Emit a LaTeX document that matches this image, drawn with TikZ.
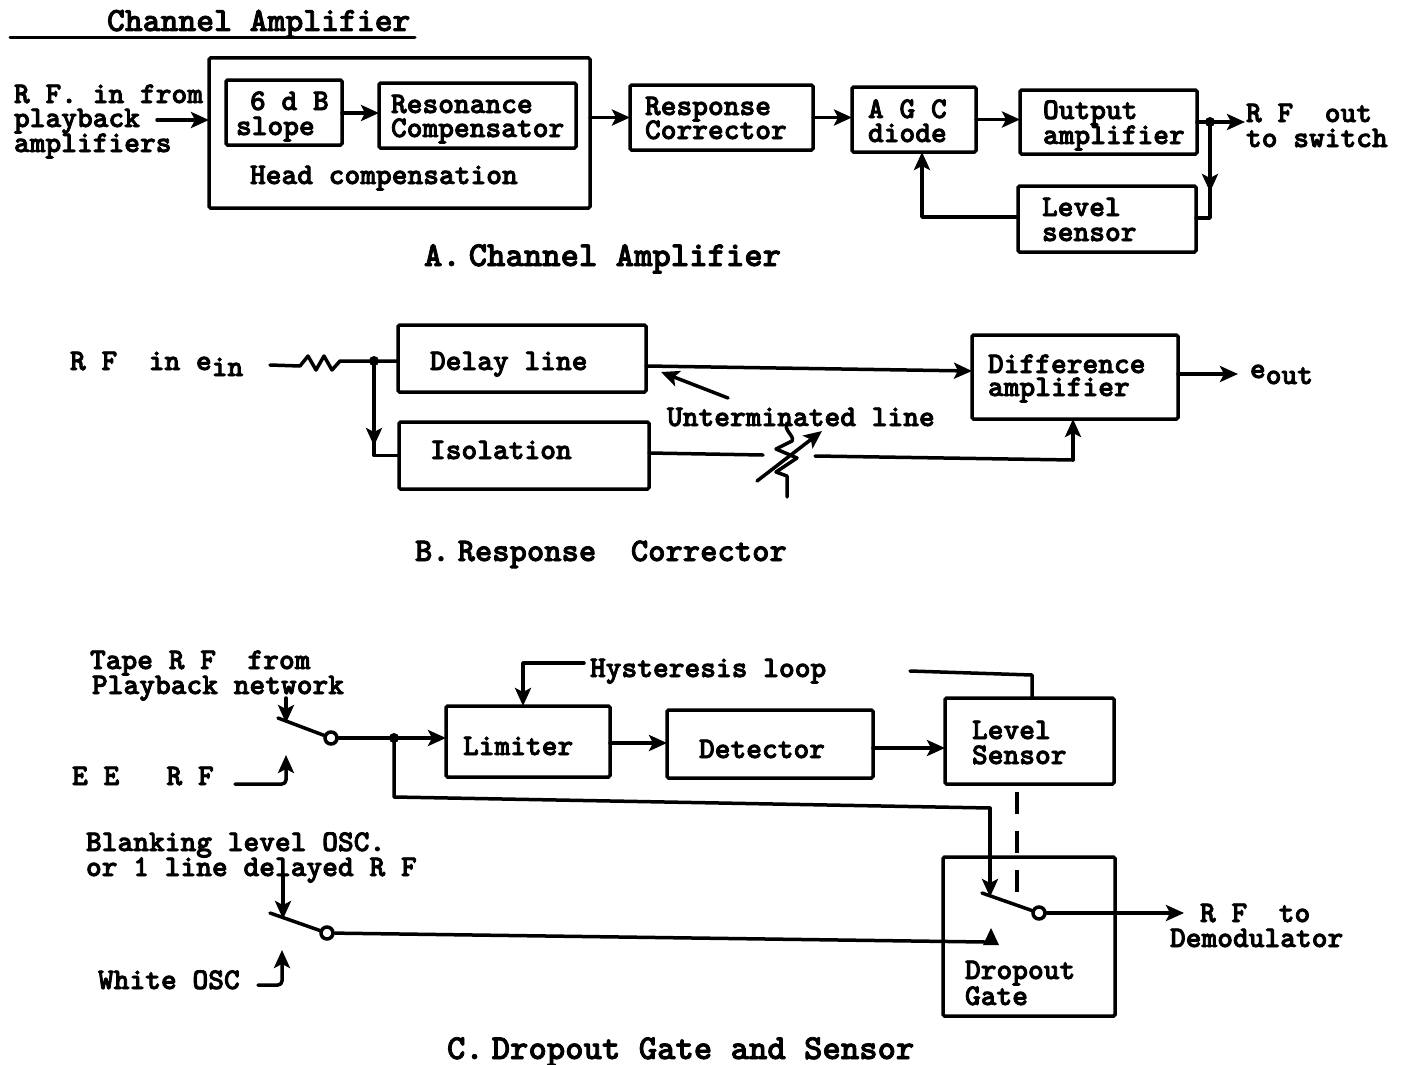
\documentclass[tikz,border=0pt]{standalone}
\usetikzlibrary{arrows.meta,calc}
\newcommand{\heavy}{\special{pdf:code 2 Tr 0.8 w}}
\newcommand{\fa}{\ttfamily\bfseries\fontsize{30}{30}\selectfont\heavy}
\newcommand{\fc}[1]{\ttfamily\bfseries\fontsize{#1}{#1}\selectfont\heavy}
\tikzset{
  wire/.style={line width=3.5pt,line join=round,line cap=round},
  arr/.style={wire,-{Stealth[length=18pt,width=16pt,inset=4pt]}},
  blk/.style={draw,line width=3.5pt,rounded corners=1.5pt,inner sep=0pt,outer sep=0pt},
  lab/.style={inner sep=0pt,outer sep=0pt,anchor=base west,font=\fa,execute at end node={\special{pdf:code 0 Tr}}},
  captxt/.style={lab},
  jdot/.style={circle,fill,inner sep=0pt,minimum size=10pt},
  sw/.style={circle,draw,fill=white,line width=3.5pt,inner sep=0pt,minimum size=12pt},
}
% name x1 y1 x2 y2
\newcommand{\bx}[5]{\node[blk,minimum width={(#4-#2)*1pt},minimum height={(#5-#3)*1pt}] (#1) at ({(#2+#4)/2},{(#3+#5)/2}) {};}
% name x ycentre text
\newcommand{\tx}[4]{\node[lab] (#1) at (#2,#3+8) {#4};}
\begin{document}
\begin{tikzpicture}[x=1pt,y=-1pt]
\useasboundingbox (0,0) rectangle (1405,1065);
% ---------- A
\node[lab,font=\fc{34}] (title) at (107,31) {Channel Amplifier};
\coordinate (ulL) at (10,38); \coordinate (ulR) at (415,38);
\draw[wire,line width=3pt] (ulL) -- (ulR);
\bx{head}{209}{58}{590}{208}
\bx{slope}{226}{80}{342}{145}
\bx{reso}{379}{83}{576}{148}
\bx{resp}{630}{85}{813}{150}
\bx{agc}{852}{87}{976}{152}
\bx{outa}{1020}{90}{1197}{154}
\bx{lev}{1018}{186}{1196}{252}
\tx{t1}{14}{95}{R F. in from}
\tx{t2}{14}{119}{playback}
\tx{t3}{14}{144}{amplifiers}
\tx{t4}{250}{102}{6 d B}
\tx{t5}{236}{127}{slope}
\tx{t6}{391}{105}{Resonance}
\tx{t7}{391}{129}{Compensator}
\tx{t8}{250}{176}{Head compensation}
\tx{t9}{645}{107}{Response}
\tx{t10}{645}{131}{Corrector}
\tx{t11}{868}{110}{A G C}
\tx{t12}{868}{134}{diode}
\tx{t13}{1043}{111}{Output}
\tx{t14}{1043}{136}{amplifier}
\tx{t15}{1042}{208}{Level}
\tx{t16}{1042}{233}{sensor}
\tx{t17}{1246}{114}{R F~~out}
\tx{t18}{1246}{139}{to switch}
\node[captxt,font=\fc{35}] (capA) at (424,266) {A.\hspace{8pt}Channel Amplifier};
\coordinate (inA) at (157,120);
\draw[arr] (inA) -- (inA -| head.west);
\draw[arr] (slope.east |- 0,113) -- (reso.west |- 0,113);
\draw[arr] (head.east |- resp.west) -- (resp.west);
\draw[arr] (resp.east) -- (agc.west |- resp.east);
\draw[arr] (agc.east) -- (outa.west |- agc.east);
\coordinate (jA) at (1210,122);
\coordinate (jAe) at (1245,122);
\draw[arr] (outa.east) -- (jAe);
\node[jdot] (dA) at (jA) {};
\draw[arr] (dA.center) -- (1210,192);
\draw[wire] (1210,185) |- (lev.east |- 0,218);
\draw[arr] (lev.west |- 0,217) -| (agc.south -| 922,0);
% ---------- B
\bx{delay}{398}{325}{646}{392}
\bx{iso}{399}{422}{649}{489}
\bx{diff}{972}{335}{1178}{419}
\node[lab] (t20) at (70,370) {R~F~~in~e\raisebox{-6pt}{in}};
\tx{t21}{430}{362}{Delay line}
\tx{t22}{430}{451}{Isolation}
\tx{t23}{988}{365}{Difference}
\tx{t24}{988}{388}{amplifier}
\node[lab] (t25) at (1250,378) {e\raisebox{-6pt}{out}};
\tx{t26}{667}{418}{Unterminated line}
\node[captxt,font=\fc{33}] (capB) at (415,561) {B.\hspace{8pt}Response~~Corrector};
\coordinate (rA) at (270,365);
\node[jdot] (dB) at (374,361) {};
\draw[wire] (rA) -- (300,366) -- (308,356) -- (316,370) -- (324,356) -- (332,370) -- (340,361) -- (dB.center) -- (delay.west |- dB);
\draw[arr] (dB.center) -- (374,446);
\draw[wire] (374,440) |- (iso.west);
\draw[arr] (delay.east |- 0,366) -- (diff.west |- 0,371);
\draw[arr] (diff.east |- 0,374) -- (1238,374);
\coordinate (utail) at (728,398); \coordinate (uhead) at (661,372);
\draw[arr] (utail) -- (uhead);
\coordinate (isoa) at (763,455); \coordinate (isob) at (815,456);
\draw[wire] (iso.east |- 0,453) -- (isoa);
\draw[wire] (isob) -- (1073,460);
\draw[arr] (1073,460) -- (diff.south -| 1073,0);
\coordinate (vrT) at (787,423); \coordinate (vrB) at (787,497);
\draw[wire] (vrT) .. controls (783,430) and (795,436) .. (792,441) -- (776,449) -- (797,458) -- (776,472) -- (787,476) -- (vrB);
\draw[arr] (757,481) -- (822,431);
% ---------- C
\bx{limi}{446}{706}{610}{777}
\bx{dete}{667}{710}{873}{778}
\bx{lsen}{945}{698}{1114}{784}
\bx{gate}{943}{857}{1115}{1016}
\tx{t30}{90}{661}{Tape R F~~from}
\tx{t31}{92}{686}{Playback network}
\tx{t32}{72}{777}{E E~~~R F}
\tx{t33}{86}{843}{Blanking level OSC.}
\tx{t34}{86}{868}{or 1 line delayed R F}
\tx{t35}{98}{981}{White OSC}
\tx{t36}{590}{669}{Hysteresis loop}
\tx{t37}{463}{747}{Limiter}
\tx{t38}{699}{750}{Detector}
\tx{t39}{972}{731}{Level}
\tx{t40}{972}{756}{Sensor}
\tx{t41}{965}{971}{Dropout}
\tx{t42}{965}{997}{Gate}
\tx{t43}{1200}{914}{R F~~to}
\tx{t44}{1170}{939}{Demodulator}
\node[captxt,font=\fc{35}] (capC) at (447,1059) {C.\hspace{8pt}Dropout Gate and Sensor};
% switch 1
\node[sw] (s1) at (331,738) {};
\coordinate (s1arm) at (278,718);
\draw[wire] (s1arm) -- (s1);
\draw[arr] (286,698) -- (286,723);
\node[jdot] (dC) at (394,738) {};
\draw[wire] (s1) -- (dC.center);
\draw[arr] (dC.center) -- (limi.west |- dC);
\draw[wire] (dC.center) -- (394,797) -- (990,808);
\coordinate (s3top) at (990,808);
\draw[arr] (s3top) -- (990,897);
\coordinate (eeL) at (235,784);
\draw[arr,rounded corners=4pt] (eeL) -- (286,784) -- (286,755);
% switch 2
\node[sw] (s2) at (327,933) {};
\coordinate (s2arm) at (270,913);
\draw[wire] (s2arm) -- (s2);
\draw[arr] (283,876) -- (283,919);
\coordinate (whL) at (258,985);
\draw[arr,rounded corners=4pt] (whL) -- (282,985) -- (282,950);
\coordinate (s3in) at (985,942);
\draw[wire] (s2) -- (s3in);
\fill (983,945) -- (991,928) -- (999,945) -- cycle;
% switch 3
\node[sw] (s3) at (1039,913) {};
\coordinate (s3arm) at (982,893);
\draw[wire] (s3arm) -- (s3);
\coordinate (rfo) at (1184,913);
\draw[arr] (s3) -- (rfo);
\draw[wire,line width=4.5pt,dash pattern=on 22pt off 17pt,line cap=butt] (1017,792) -- (1017,902);
% top row
\draw[arr] (limi.east |- 0,743) -- (dete.west |- 0,743);
\draw[arr] (dete.east |- 0,748) -- (lsen.west |- 0,748);
\coordinate (hysA) at (584,663);
\draw[arr] (hysA) -| (523,706);
\coordinate (hysB) at (910,671);
\draw[wire] (hysB) -- (1032,675) -- (lsen.north -| 1032,0);
\end{tikzpicture}
\end{document}
